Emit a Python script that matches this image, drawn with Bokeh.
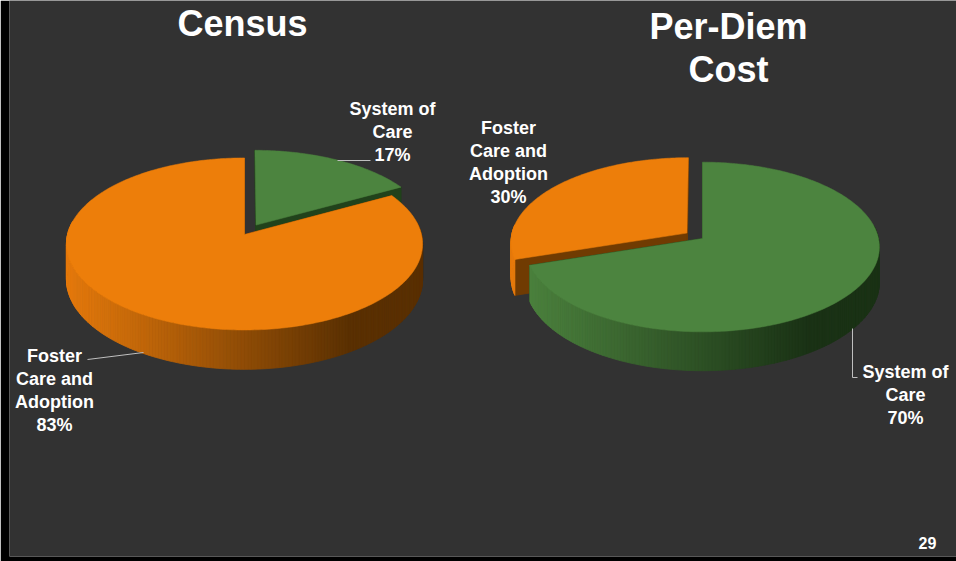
import numpy as np
from bokeh.plotting import figure
from bokeh.core.properties import value
from bokeh.embed import file_html
from bokeh.resources import INLINE

# ---------------- data ----------------
categories = ["System of Care", "Foster Care and Adoption"]
census_share = [17, 83]
perdiem_share = [70, 30]
chart_titles = [["Census"], ["Per-Diem", "Cost"]]
category_label_lines = [["System of", "Care"], ["Foster", "Care and", "Adoption"]]
page_number = "29"

# ---------------- style ----------------
BG = "#323232"
FONT = value("Liberation Sans")
top_colors = ["#4C843F", "#ED7E0A"]
side_light = [(76, 130, 62), (230, 122, 12)]
side_dark = [(26, 50, 21), (90, 48, 2)]
wall_colors = ["#21421B", "#703B02"]

pies = [
    dict(values=census_share, cx=244, cy=234, b=177, a=85, k=0.11, depth=35,
         explode=[0.13, 0.0], title_x=242, title_y=23,
         label_pos=[(392, 108), (54, 355)],
         leaders=[[(337, 160), (370, 160)], [(87, 359), (143, 352)]]),
    dict(values=perdiem_share, cx=702, cy=238, b=176, a=84, k=0.10, depth=35,
         explode=[0.0, 0.11], title_x=728, title_y=26,
         label_pos=[(905, 371), (508, 127)],
         leaders=[[(852, 328), (852, 377), (857, 377)], []]),
]

p = figure(width=956, height=561, x_range=(9, 956), y_range=(556, 0),
           output_backend="svg", toolbar_location=None,
           min_border=0, min_border_left=9, min_border_bottom=5,
           border_fill_color="black", background_fill_color=BG,
           outline_line_color=None)
p.axis.visible = False
p.grid.visible = False


def proj(pie, u, v):
    w = 1 + pie["k"] * v
    return pie["cx"] + pie["b"] * u / w, pie["cy"] - pie["a"] * v / w


def dep(pie, v):
    return pie["depth"] / (1 + pie["k"] * v)


def lerp_col(c0, c1, t):
    t = min(max(t, 0.0), 1.0)
    r, g, b = (int(round(c0[i] + (c1[i] - c0[i]) * t)) for i in range(3))
    return "#%02x%02x%02x" % (r, g, b)


for pie in pies:
    vals = np.array(pie["values"], dtype=float)
    cum = np.concatenate([[0], np.cumsum(vals)]) / vals.sum() * 2 * np.pi
    slices = []
    for i in range(len(vals)):
        t0, t1 = cum[i], cum[i + 1]
        mid = (t0 + t1) / 2
        e = pie["explode"][i]
        slices.append((i, t0, t1, e * np.sin(mid), e * np.cos(mid), np.cos(mid)))
    # back slices first
    slices.sort(key=lambda s: -s[5])
    left_x = pie["cx"] - pie["b"]
    for (i, t0, t1, eu, ev, _) in slices:
        n = max(10, int(np.degrees(t1 - t0)) + 2)
        th = np.linspace(t0, t1, n)
        u = eu + np.sin(th)
        v = ev + np.cos(th)
        rx, ry = proj(pie, u, v)
        ax, ay = proj(pie, eu, ev)
        rdep = dep(pie, v)
        adep = dep(pie, ev)
        # radial walls
        wxs, wys = [], []
        for j in (0, n - 1):
            wxs.append([ax, rx[j], rx[j], ax])
            wys.append([ay, ry[j], ry[j] + rdep[j], ay + adep])
        p.patches(wxs, wys, fill_color=wall_colors[i], line_color=wall_colors[i], line_width=0.8)
        # outer rim wall strips with horizontal gradient
        sxs, sys_, cols = [], [], []
        for j in range(n - 1):
            if v[j] > 0.15 and v[j + 1] > 0.15:
                continue
            sxs.append([rx[j], rx[j + 1], rx[j + 1], rx[j]])
            sys_.append([ry[j], ry[j + 1], ry[j + 1] + rdep[j + 1], ry[j] + rdep[j]])
            xm = (rx[j] + rx[j + 1]) / 2
            t = (xm - left_x) / (1.6 * pie["b"])
            cols.append(lerp_col(side_light[i], side_dark[i], t))
        if sxs:
            p.patches(sxs, sys_, fill_color=cols, line_color=cols, line_width=0.8)
        # top face
        p.patch([ax] + list(rx), [ay] + list(ry), fill_color=top_colors[i],
                line_color=top_colors[i], line_width=0.5)

    # leader lines
    for ld in pie["leaders"]:
        if ld:
            p.line([q[0] for q in ld], [q[1] for q in ld], line_color="#BFBFBF", line_width=1)

    # data labels
    tx, ty, tt = [], [], []
    for i, (lx, ly) in enumerate(pie["label_pos"]):
        lines = category_label_lines[i] + [f"{pie['values'][i]}%"]
        for li, line in enumerate(lines):
            tx.append(lx)
            ty.append(ly + li * 23)
            tt.append(line)
    p.text(tx, ty, text=tt, text_font=FONT, text_font_style="bold", text_font_size="18px",
           text_color="white", text_align="center", text_baseline="middle")

# titles
for pie, title in zip(pies, chart_titles):
    p.text([pie["title_x"]] * len(title), [pie["title_y"] + 43 * k for k in range(len(title))],
           text=title, text_font=FONT, text_font_style="bold", text_font_size="36px",
           text_color="white", text_align="center", text_baseline="middle")

p.text([927], [542], text=[page_number], text_font=FONT, text_font_style="bold",
       text_font_size="16px", text_color="white", text_align="center", text_baseline="middle")

open("out.html", "w").write(file_html(p, INLINE))
